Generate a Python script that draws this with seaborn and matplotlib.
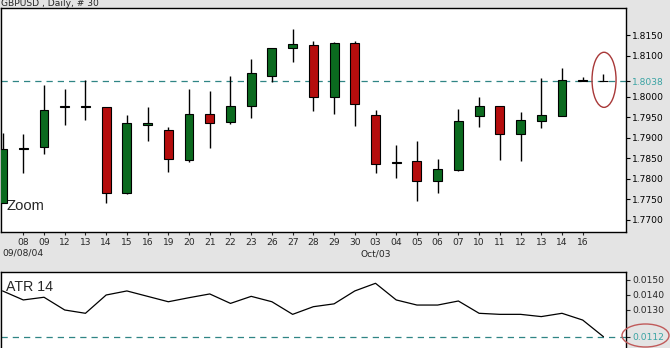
import numpy as np
import pandas as pd
import matplotlib
matplotlib.use("Agg")
import matplotlib.pyplot as plt
import matplotlib.transforms as mtransforms
from matplotlib.patches import Ellipse
import seaborn as sns

# ------- DATA ---------
days = ["07", "08", "09", "12", "13", "14", "15", "16", "19", "20", "21", "22", "23", "26", "27",
        "28", "29", "30", "03", "04", "05", "06", "07", "10", "11", "12", "13", "14", "16", "17"]
opens = [1.7741, 1.7873, 1.7877, 1.7975, 1.7974, 1.7974, 1.7766, 1.7932, 1.7919, 1.7846,
         1.7959, 1.7939, 1.7978, 1.8051, 1.8118, 1.8126, 1.8000, 1.8130, 1.7955, 1.7838,
         1.7843, 1.7796, 1.7822, 1.7954, 1.7977, 1.7910, 1.7942, 1.7954, 1.8038, 1.8038]
highs = [1.7911, 1.7909, 1.8028, 1.8019, 1.8041, 1.7974, 1.7955, 1.7976, 1.7927, 1.8019,
         1.8015, 1.8050, 1.8092, 1.8118, 1.8165, 1.8135, 1.8133, 1.8135, 1.7968, 1.7882,
         1.7892, 1.7848, 1.7970, 1.7998, 1.7977, 1.7963, 1.8045, 1.8070, 1.8047, 1.8055]
lows = [1.7741, 1.7814, 1.7861, 1.7931, 1.7943, 1.7742, 1.7764, 1.7892, 1.7817, 1.7840,
        1.7876, 1.7933, 1.7949, 1.8035, 1.8084, 1.7966, 1.7957, 1.7929, 1.7815, 1.7803,
        1.7747, 1.7765, 1.7820, 1.7927, 1.7846, 1.7843, 1.7925, 1.7954, 1.8037, 1.8038]
closes = [1.7872, 1.7876, 1.7968, 1.7978, 1.7977, 1.7766, 1.7935, 1.7935, 1.7849, 1.7959,
          1.7937, 1.7977, 1.8058, 1.8118, 1.8128, 1.8000, 1.8131, 1.7983, 1.7837, 1.7841,
          1.7796, 1.7823, 1.7941, 1.7977, 1.7910, 1.7943, 1.7955, 1.8041, 1.8040, 1.8038]
atr = [0.01427, 0.01367, 0.01385, 0.01300, 0.01278, 0.01400, 0.01427, 0.01391, 0.01355, 0.01382,
       0.01407, 0.01344, 0.01391, 0.01355, 0.01271, 0.01322, 0.01341, 0.01427, 0.01478, 0.01367,
       0.01333, 0.01333, 0.01360, 0.01278, 0.01271, 0.01271, 0.01256, 0.01278, 0.01233, 0.01122]

last_price = 1.8038
last_atr = 0.0112
price_ticks = [1.8150, 1.8100, 1.8038, 1.8000, 1.7950, 1.7900, 1.7850, 1.7800, 1.7750, 1.7700]
atr_ticks = [0.0150, 0.0140, 0.0130, 0.0112]

df = pd.DataFrame({"day": days, "open": opens, "high": highs, "low": lows,
                   "close": closes, "atr": atr})
df["idx"] = np.arange(len(df))

# ------- STYLE ---------
sns.set_style("white")
plt.rcParams["font.family"] = ["DejaVu Sans"]
BG = "#e4e4e4"
GREEN = "#0b6a1f"
RED = "#b50d0d"
TEAL_LINE = "#2f8585"
TEAL_TXT = "#3aa3a3"
RING = "#a83838"

fig = plt.figure(figsize=(6.7, 3.48), dpi=100, facecolor=BG)
W, H = 670.0, 348.0
ax = fig.add_axes([0.5 / W, 116 / H, 625.5 / W, 224 / H])
ax2 = fig.add_axes([0.5 / W, -4 / H, 625.5 / W, 80.3 / H])

xlim = (-0.1, 30.09)

# ------- CANDLES ---------
up = df["close"] >= df["open"]
ax.vlines(df["idx"], df["low"], df["high"], color="black", lw=1, zorder=2)
body_bottom = np.minimum(df["open"], df["close"])
body_h = (df["close"] - df["open"]).abs()
ax.bar(df["idx"], body_h, bottom=body_bottom, width=0.43,
       color=np.where(up, GREEN, RED), edgecolor="black", linewidth=0.8, zorder=3)

ax.axhline(last_price, color=TEAL_LINE, lw=0.9, ls=(0, (5, 4)), zorder=1)
ax.add_patch(Ellipse((29.03, 1.8041), 1.16, 0.0134, fill=False, edgecolor=RING, lw=1, zorder=4))

ax.set_xlim(*xlim)
ax.set_ylim(1.76708, 1.82157)
ax.set_yticks(price_ticks)
ax.set_yticklabels([f"{v:.4f}" for v in price_ticks])
ax.yaxis.tick_right()
ax.tick_params(axis="y", right=True, left=False, direction="out", length=3, width=0.8,
               labelsize=6.6, pad=1.5, colors="black")
ax.get_yticklabels()[2].set_color(TEAL_TXT)
ax.set_xticks(df["idx"][1:29])
ax.set_xticklabels(df["day"][1:29])
ax.tick_params(axis="x", bottom=True, direction="out", length=2, width=0.8,
               labelsize=6.6, pad=2)
for s in ax.spines.values():
    s.set_color("black")
    s.set_linewidth(1)

ax.text(6 / 625.5, 1 - (206.5 - 8) / 224, "Zoom", transform=ax.transAxes,
        family="Liberation Sans", fontsize=10.6, va="center", ha="left")

trans = mtransforms.blended_transform_factory(ax.transData, fig.transFigure)
ax.text(1, 1 - 253.5 / H, "09/08/04", transform=trans, ha="center", va="center",
        fontsize=6.6, clip_on=False)
ax.text(18, 1 - 254 / H, "Oct/03", transform=trans, ha="center", va="center",
        fontsize=6.6, clip_on=False)

fig.text(1 / W, 1 - 4 / H, "GBPUSD , Daily, # 30", fontsize=6.6, va="center", ha="left")

# ------- ATR PANEL ---------
sns.lineplot(data=df, x="idx", y="atr", ax=ax2, color="black", lw=0.9)
ax2.axhline(last_atr, color=TEAL_LINE, lw=0.9, ls=(0, (5, 4)), zorder=1)
ax2.set_xlim(*xlim)
ax2.set_ylim(0.0102, 0.015553)
ax2.set_xticks([])
ax2.set_xlabel("")
ax2.set_ylabel("")
ax2.set_yticks(atr_ticks)
ax2.set_yticklabels([f"{v:.4f}" for v in atr_ticks])
ax2.yaxis.tick_right()
ax2.tick_params(axis="y", right=True, left=False, direction="out", length=3, width=0.8,
                labelsize=6.6, pad=1.5)
ax2.get_yticklabels()[3].set_color(TEAL_TXT)
for s in ax2.spines.values():
    s.set_color("black")
    s.set_linewidth(1)
ax2.text(6 / 625.5, 1 - (286.7 - 271.7) / 80.3, "ATR 14", transform=ax2.transAxes,
         family="Liberation Sans", fontsize=10.2, va="center", ha="left")

fig.add_artist(Ellipse((645.5 / W, 12.5 / H), 47 / W, 23 / H, transform=fig.transFigure,
                       fill=False, edgecolor="#c05a5a", lw=1))

fig.savefig("out.png", dpi=100, facecolor=BG)
